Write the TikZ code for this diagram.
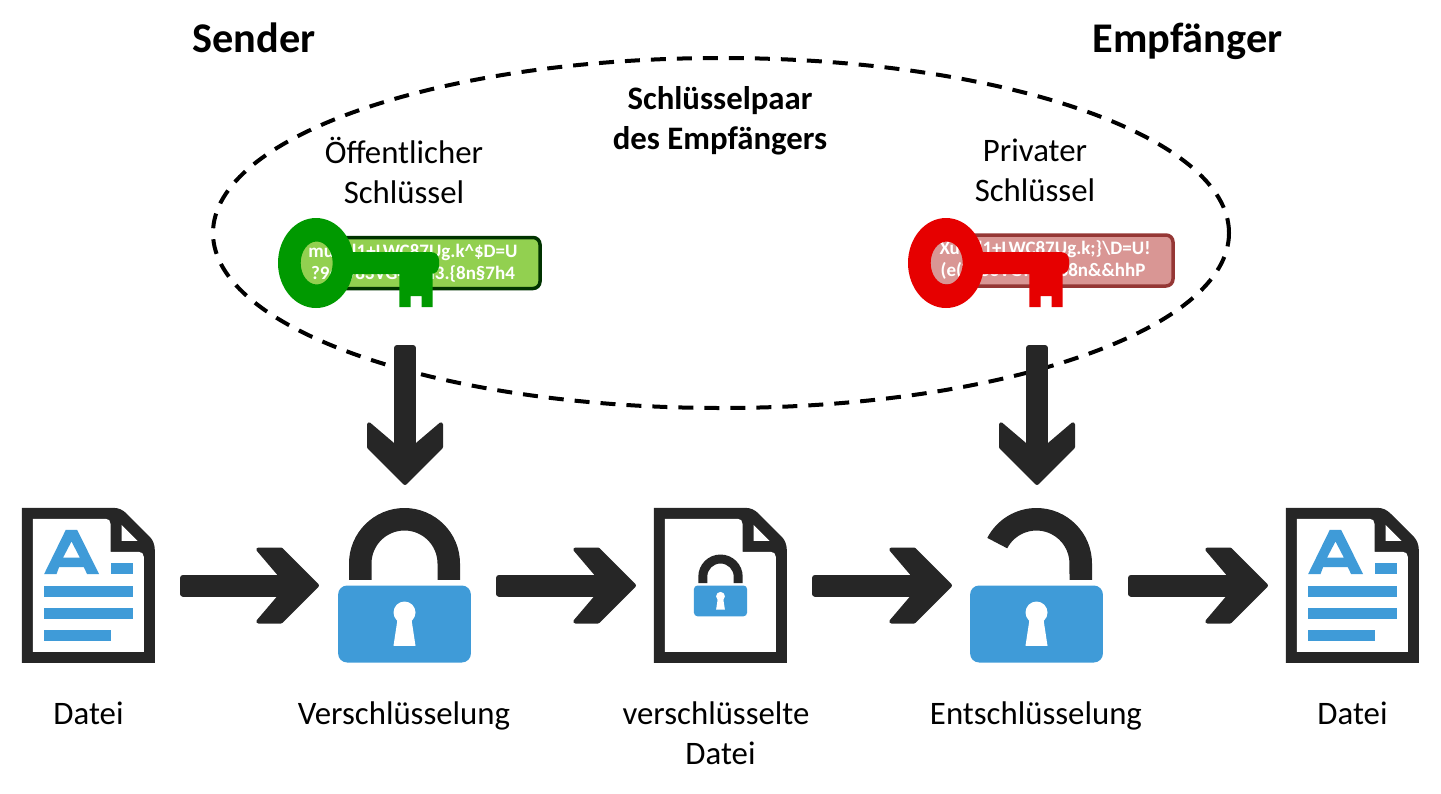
\documentclass[tikz,border=0pt]{standalone}
\usepackage{fontspec}
\setmainfont{Carlito}
\usetikzlibrary{shapes.geometric,positioning}

\definecolor{iconblack}{HTML}{262626}
\definecolor{iconblue}{HTML}{3F9BD8}
\definecolor{keygreen}{HTML}{009900}
\definecolor{keyred}{HTML}{E60000}
\definecolor{boxgreen}{HTML}{92D050}
\definecolor{edgegreen}{HTML}{003300}
\definecolor{boxred}{HTML}{D99694}
\definecolor{edgered}{HTML}{953735}

% Arrow ends of the thick connectors
\pgfdeclarearrow{
  name=Chevron,
  setup code={\pgfarrowssettipend{0pt}\pgfarrowssetlineend{-36pt}\pgfarrowssetbackend{-64pt}},
  drawing code={
    \pgfsetlinewidth{4pt}
    \pgfsetroundjoin
    \pgfpathmoveto{\pgfqpoint{-2.83pt}{0pt}}
    \pgfpathlineto{\pgfqpoint{-38.83pt}{36pt}}
    \pgfpathlineto{\pgfqpoint{-61.5pt}{36pt}}
    \pgfpathlineto{\pgfqpoint{-38.5pt}{9pt}}
    \pgfpathlineto{\pgfqpoint{-38.5pt}{-9pt}}
    \pgfpathlineto{\pgfqpoint{-61.5pt}{-36pt}}
    \pgfpathlineto{\pgfqpoint{-38.83pt}{-36pt}}
    \pgfpathclose
    \pgfusepathqfillstroke
  }
}
\pgfdeclarearrow{
  name=Blunt,
  setup code={\pgfarrowssettipend{0pt}\pgfarrowssetlineend{-4pt}\pgfarrowssetbackend{-6pt}},
  drawing code={
    \pgfsetlinewidth{6pt}
    \pgfsetroundjoin
    \pgfpathmoveto{\pgfqpoint{-6pt}{-8pt}}
    \pgfpathlineto{\pgfqpoint{-3pt}{-8pt}}
    \pgfpathlineto{\pgfqpoint{-3pt}{8pt}}
    \pgfpathlineto{\pgfqpoint{-6pt}{8pt}}
    \pgfpathclose
    \pgfusepathqfillstroke
  }
}

% Padlock body with its keyhole
\newcommand{\lockbody}[1]{
  \fill[iconblue, rounded corners=#1] (-66.4,0) rectangle (66.4,77);
  \fill[white] (0,27) circle (11);
  \fill[white] (-7,34) -- (7,34) -- (11,60.3) -- (-11,60.3) -- cycle;
}

\tikzset{
  label/.style={font=\fontsize{32.8}{40}\selectfont, align=center, text=black},
  headline/.style={font=\fontsize{42.3}{50}\selectfont\bfseries, text=black, anchor=base},
  iconbox/.style={minimum width=133pt, minimum height=155pt, inner sep=0pt},
  keybox/.style={rounded corners=7pt, line width=3.5pt, minimum height=51pt, inner sep=0pt,
    text=white, align=center, font=\fontsize{19}{22}\selectfont\bfseries,
    execute at begin node=\rule{0pt}{22pt}},
  flow/.style={draw=iconblack, line width=22pt},
  pics/docicon/.style={code={
    \fill[iconblack] (0,0) -- (91,0) .. controls (97,0) and (101,2) .. (105,6) -- (128,29)
      .. controls (131,32) and (133,37) .. (133,42) -- (133,155) -- (0,155) -- cycle;
    \fill[white] (11,11) -- (84,11) .. controls (87,11) and (88.7,13) .. (88.7,16) -- (88.7,44) -- (117,44)
      .. controls (120,44) and (122,46) .. (122,49) -- (122,144) -- (11,144) -- cycle;
    \fill[white] (99.7,17) -- (99.7,33) -- (115.7,33) -- cycle;
  }},
  pics/textlines/.style={code={
    \fill[iconblue, even odd rule] (44,22) -- (55.3,22) -- (77.3,66.3) -- (65.3,66.3) -- (62,59.3) -- (37.3,59.3)
      -- (34.7,66.3) -- (22.3,66.3) -- cycle (49.7,33.7) -- (58,49.7) -- (41.3,49.7) -- cycle;
    \fill[iconblue] (88.7,55.3) rectangle (111,66.3);
    \fill[iconblue] (22,77.7) rectangle (111,88.7);
    \fill[iconblue] (22,99.7) rectangle (111,110.7);
    \fill[iconblue] (22,121.7) rectangle (88.7,132.7);
  }},
  pics/closedlock/.style={code={
    \fill[iconblack] (-55.5,-5.7) -- (-55.5,-22) arc[start angle=180, end angle=360, radius=55.5] -- (55.5,-5.7)
      -- (33,-5.7) -- (33,-22) arc[start angle=360, end angle=180, radius=33] -- (-33,-5.7) -- cycle;
    \lockbody{#1}
  }},
  pics/closedlock/.default=9pt,
  pics/openlock/.style={code={
    \fill[iconblack] (55.5,-5.7) -- (55.5,-22) arc[start angle=360, end angle=207.5, radius=55.5]
      -- (-29.3,-37.2) arc[start angle=207.5, end angle=360, radius=33] -- (33,-5.7) -- cycle;
    \lockbody{9pt}
  }},
  pics/keyicon/.style={code={
    \fill[pic actions, even odd rule] (0,0) ellipse [x radius=38, y radius=45] (0.7,0) ellipse [x radius=16, y radius=21.5];
    \fill[pic actions, rounded corners=8pt] (25,-11) rectangle (123,11);
    \fill[pic actions] (83.3,11) -- (116.7,11) -- (116.7,44) -- (105.7,44) -- (105.7,33) -- (94.7,33) -- (94.7,44)
      -- (83.3,44) -- cycle;
  }},
}

\begin{document}
\begin{tikzpicture}[x=1pt, y=-1pt]
    \useasboundingbox (0,0) rectangle (1441,793);

    % Draw key pair ring
    \node[ellipse, draw, dash pattern=on 15pt off 11pt, line width=4pt, minimum width=1016pt, minimum height=350pt, inner sep=0pt] (keypair) at (721,233) {};

    % Draw headings
    \node[headline] (sender) at (254,52) {Sender};
    \node[headline] (empfaenger) at (1187.5,52) {Empfänger};
    \node[label, font=\fontsize{32.8}{40}\selectfont\bfseries] (pairtitle) at (720,121) {Schlüsselpaar\\des Empfängers};
    \node[label] (publabel) at (404,170) {Öffentlicher\\Schlüssel};
    \node[label] (privlabel) at (1035,170) {Privater\\Schlüssel};

    % Draw key boxes and keys
    \node[keybox, draw=edgegreen, fill=boxgreen, minimum width=254pt] (pubbox) at (413,263) {mu3"l1+LWC87Ug.k\^{}\$D=U\\?9cTy83VG4>Lh3.\{8n§7h4};
    \node[keybox, draw=edgered, fill=boxred, minimum width=256pt] (privbox) at (1045,260.5) {Xu3"l1+LWC87Ug.k;\}\textbackslash D=U!\\(e(Ty83VG?>Lh38n\&\&hhP\hspace*{4pt}};
    \coordinate (pubring) at (316,263);
    \coordinate (privring) at (946,263);
    \pic[fill=keygreen] at (pubring) {keyicon};
    \pic[fill=keyred] at (privring) {keyicon};

    % Draw icons of the lower row
    \node[iconbox] (datei) at (88.5,585.5) {};
    \node[iconbox] (verschl) at (404.5,585.5) {};
    \node[iconbox] (cipher) at (720.5,585.5) {};
    \node[iconbox] (entschl) at (1036.5,585.5) {};
    \node[iconbox] (klartext) at (1352.5,585.5) {};
    \pic at (datei.north west) {docicon};
    \pic at (datei.north west) {textlines};
    \pic at (verschl.center) {closedlock};
    \pic at (cipher.north west) {docicon};
    \pic[scale=0.4] at (cipher.center) {closedlock=3.6pt};
    \pic at (entschl.center) {openlock};
    \pic at (klartext.north west) {docicon};
    \pic at (klartext.north west) {textlines};

    % Draw labels of the lower row
    \node[label, anchor=north] (dateilabel) at (88.5,698) {Datei};
    \node[label, anchor=north] (verschllabel) at (404,698) {Verschlüsselung};
    \node[label, anchor=north] (cipherlabel) at (720.5,698) {verschlüsselte\hspace*{9pt}\\Datei};
    \node[label, anchor=north] (entschllabel) at (1036,698) {Entschlüsselung};
    \node[label, anchor=north] (klartextlabel) at (1352.5,698) {Datei};

    % Draw hor. connecting arrows
    \draw[flow, {Blunt}-{Chevron}] ([xshift=25pt]datei.east) -- ([xshift=-18pt]verschl.west);
    \draw[flow, {Blunt}-{Chevron}] ([xshift=25pt]verschl.east) -- ([xshift=-17pt]cipher.west);
    \draw[flow, {Blunt}-{Chevron}] ([xshift=25pt]cipher.east) -- ([xshift=-17pt]entschl.west);
    \draw[flow, {Blunt}-{Chevron}] ([xshift=25pt]entschl.east) -- ([xshift=-17pt]klartext.west);

    % Draw ver. connecting arrows
    \coordinate (pubfoot) at (405,345);
    \coordinate (privfoot) at (1037,345);
    \draw[flow, {Blunt}-{Chevron}] (pubfoot) -- ([yshift=22pt]verschl.north -| pubfoot);
    \draw[flow, {Blunt}-{Chevron}] (privfoot) -- ([yshift=22pt]entschl.north -| privfoot);

  \end{tikzpicture}
\end{document}
